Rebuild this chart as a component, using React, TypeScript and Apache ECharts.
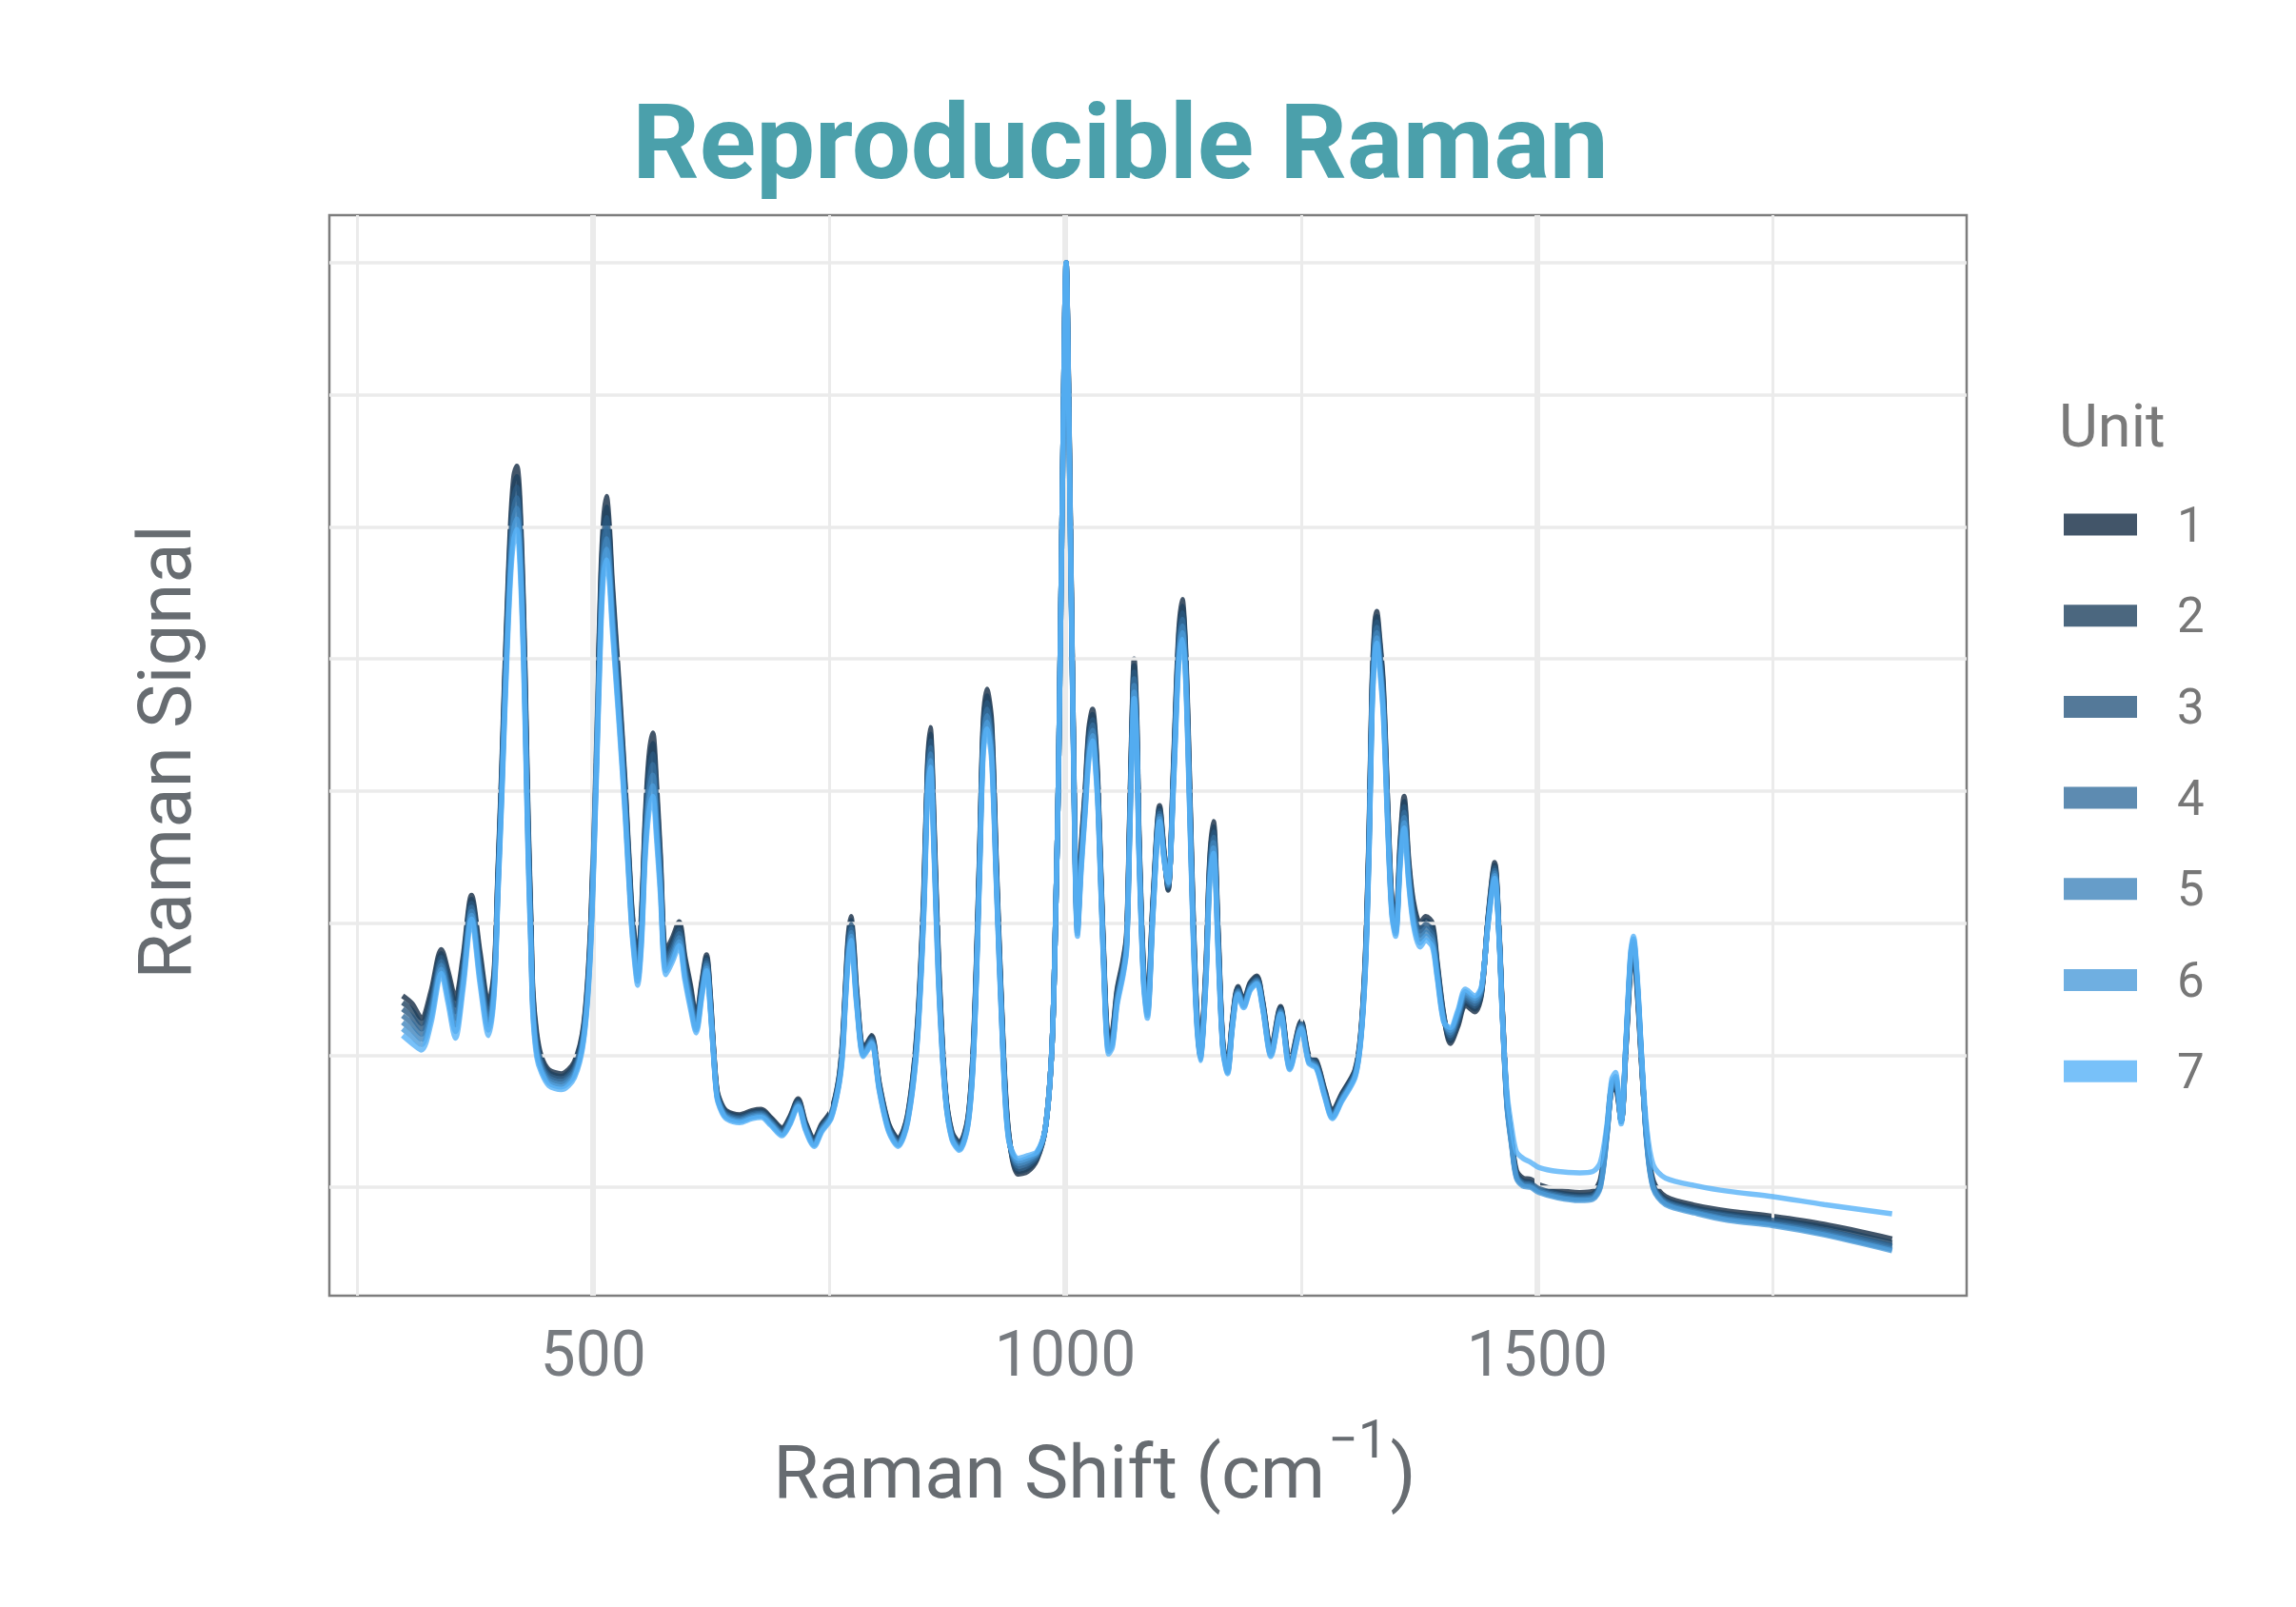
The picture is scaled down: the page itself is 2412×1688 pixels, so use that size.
import React, { useEffect, useRef } from "react";
import * as echarts from "echarts";

// ---------- data ----------
const chartTitle = "Reproducible Raman";
const xTitleMain = "Raman Shift (cm";
const xTitleSup = "\u22121";
const xTitleEnd = ")";
const yTitle = "Raman Signal";
const legendTitle = "Unit";

const units = ["1", "2", "3", "4", "5", "6", "7"];

const xMajorBreaks = [500, 1000, 1500];
const xMinorBreaks = [250, 750, 1250, 1750];
const yBreaks = [0, 1, 2, 3, 4, 5, 6, 7];

const wavenumber = [
  298, 308, 318, 328, 339, 346, 354, 362, 371, 380,
  389, 395, 399, 403, 406, 410, 413, 416, 419, 422,
  426, 429, 431, 434, 436, 440, 445, 453, 466, 480,
  490, 497, 503, 508, 511, 514, 517, 520, 527, 534,
  540, 544, 547, 551, 555, 559, 563, 567, 571, 577,
  584, 591, 597, 603, 609, 615, 620, 624, 627, 631,
  636, 641, 655, 668, 678, 688, 700, 708, 717, 725,
  734, 742, 752, 760, 764, 767, 770, 773, 776, 779,
  786, 790, 795, 803, 813, 823, 833, 843, 850, 854,
  857, 861, 866, 873, 880, 888, 897, 903, 909, 913,
  917, 922, 927, 934, 940, 950, 960, 970, 979, 986,
  990, 993, 997, 1001, 1004, 1008, 1013, 1017, 1021, 1025,
  1029, 1032, 1035, 1040, 1046, 1050, 1055, 1061, 1065, 1068,
  1071, 1073, 1076, 1078, 1083, 1087, 1093, 1100, 1105, 1109,
  1115, 1120, 1124, 1127, 1130, 1135, 1139, 1143, 1149, 1153,
  1157, 1162, 1167, 1172, 1177, 1183, 1189, 1196, 1203, 1209,
  1218, 1228, 1238, 1250, 1258, 1266, 1275, 1283, 1293, 1307,
  1313, 1318, 1322, 1325, 1328, 1330, 1333, 1337, 1342, 1346,
  1350, 1355, 1359, 1364, 1369, 1376, 1382, 1389, 1394, 1401,
  1408, 1416, 1424, 1434, 1441, 1448, 1455, 1460, 1463, 1468,
  1473, 1478, 1485, 1493, 1502, 1522, 1545, 1559, 1567, 1574,
  1579, 1583, 1589, 1594, 1599, 1602, 1606, 1611, 1616, 1623,
  1636, 1670, 1703, 1750, 1804, 1876,
];

const unit1 = [
  1.45, 1.39, 1.28, 1.48, 1.80, 1.64, 1.43, 1.74, 2.21, 1.78,
  1.39, 1.64, 2.39, 3.17, 3.84, 4.63, 5.11, 5.39, 5.46, 5.24,
  4.42, 3.48, 2.79, 2.02, 1.49, 1.17, 0.99, 0.89, 0.86, 0.95,
  1.24, 1.95, 3.32, 4.63, 5.06, 5.23, 5.01, 4.60, 3.84, 3.03,
  2.21, 1.87, 1.71, 2.07, 2.79, 3.26, 3.44, 3.06, 2.53, 1.79,
  1.89, 2.01, 1.75, 1.53, 1.29, 1.56, 1.76, 1.46, 1.10, 0.74,
  0.63, 0.58, 0.55, 0.58, 0.59, 0.53, 0.45, 0.53, 0.67, 0.49,
  0.37, 0.48, 0.58, 0.82, 1.11, 1.50, 1.89, 2.05, 1.84, 1.50,
  1.05, 1.09, 1.15, 0.79, 0.48, 0.37, 0.55, 1.19, 2.21, 3.18,
  3.48, 2.76, 1.69, 0.74, 0.42, 0.34, 0.53, 1.13, 2.47, 3.50,
  3.77, 3.53, 2.47, 1.13, 0.42, 0.10, 0.12, 0.21, 0.45, 1.07,
  2.10, 3.17, 5.26, 7.00, 5.85, 3.75, 2.02, 2.59, 3.00, 3.47,
  3.62, 3.42, 3.00, 1.92, 1.13, 1.18, 1.50, 1.71, 1.91, 2.73,
  3.62, 4.00, 3.52, 2.73, 1.66, 1.40, 2.18, 2.89, 2.52, 2.25,
  3.26, 4.17, 4.45, 4.17, 3.55, 2.21, 1.40, 1.02, 1.66, 2.47,
  2.77, 1.95, 1.10, 0.92, 1.26, 1.52, 1.42, 1.55, 1.60, 1.42,
  1.05, 1.37, 0.95, 1.26, 1.00, 0.96, 0.74, 0.58, 0.71, 0.89,
  1.16, 1.76, 2.73, 3.81, 4.27, 4.36, 4.17, 3.81, 2.84, 2.18,
  2.02, 2.63, 2.96, 2.47, 2.16, 2.00, 2.05, 2.00, 1.71, 1.31,
  1.09, 1.22, 1.38, 1.33, 1.46, 2.05, 2.46, 1.89, 1.37, 0.66,
  0.36, 0.13, 0.07, 0.06, 0.02, -0.02, -0.04, -0.03, 0.06, 0.44,
  0.74, 0.74, 0.50, 1.04, 1.66, 1.75, 1.48, 0.89, 0.39, 0.05,
  -0.07, -0.14, -0.18, -0.22, -0.28, -0.39,
];

const unit2 = [
  1.40, 1.34, 1.24, 1.44, 1.77, 1.60, 1.38, 1.70, 2.18, 1.74,
  1.35, 1.61, 2.36, 3.13, 3.79, 4.57, 5.04, 5.31, 5.38, 5.16,
  4.35, 3.42, 2.74, 1.98, 1.46, 1.14, 0.97, 0.87, 0.84, 0.93,
  1.22, 1.92, 3.27, 4.56, 4.99, 5.15, 4.94, 4.54, 3.79, 2.99,
  2.18, 1.84, 1.68, 2.03, 2.74, 3.19, 3.36, 2.99, 2.48, 1.76,
  1.86, 1.98, 1.72, 1.50, 1.27, 1.54, 1.74, 1.44, 1.09, 0.73,
  0.62, 0.57, 0.54, 0.57, 0.58, 0.52, 0.44, 0.52, 0.66, 0.48,
  0.36, 0.47, 0.57, 0.81, 1.09, 1.48, 1.86, 2.02, 1.81, 1.48,
  1.04, 1.08, 1.14, 0.78, 0.47, 0.36, 0.54, 1.17, 2.18, 3.14,
  3.43, 2.72, 1.66, 0.73, 0.41, 0.33, 0.52, 1.11, 2.44, 3.46,
  3.72, 3.48, 2.44, 1.11, 0.41, 0.12, 0.14, 0.22, 0.45, 1.07,
  2.10, 3.17, 5.26, 7.00, 5.83, 3.73, 2.00, 2.56, 2.97, 3.43,
  3.58, 3.38, 2.97, 1.90, 1.11, 1.16, 1.48, 1.69, 1.89, 2.70,
  3.58, 3.95, 3.48, 2.70, 1.64, 1.38, 2.16, 2.87, 2.51, 2.26,
  3.23, 4.13, 4.40, 4.13, 3.51, 2.18, 1.38, 1.01, 1.64, 2.44,
  2.73, 1.92, 1.09, 0.91, 1.25, 1.51, 1.41, 1.54, 1.59, 1.41,
  1.04, 1.36, 0.94, 1.25, 0.99, 0.95, 0.73, 0.57, 0.70, 0.88,
  1.15, 1.74, 2.70, 3.77, 4.23, 4.32, 4.13, 3.77, 2.81, 2.16,
  2.00, 2.60, 2.92, 2.44, 2.13, 1.97, 2.02, 1.97, 1.69, 1.30,
  1.11, 1.24, 1.40, 1.35, 1.47, 2.04, 2.44, 1.88, 1.36, 0.65,
  0.35, 0.11, 0.05, 0.04, 0.00, -0.04, -0.06, -0.05, 0.04, 0.43,
  0.75, 0.76, 0.50, 1.05, 1.68, 1.78, 1.50, 0.90, 0.38, 0.03,
  -0.09, -0.16, -0.20, -0.24, -0.30, -0.42,
];

const unit3 = [
  1.35, 1.29, 1.20, 1.40, 1.74, 1.56, 1.33, 1.66, 2.15, 1.70,
  1.31, 1.58, 2.33, 3.09, 3.74, 4.51, 4.97, 5.23, 5.30, 5.08,
  4.28, 3.36, 2.69, 1.94, 1.43, 1.11, 0.95, 0.85, 0.82, 0.91,
  1.20, 1.89, 3.22, 4.49, 4.92, 5.07, 4.87, 4.48, 3.74, 2.95,
  2.15, 1.81, 1.65, 1.99, 2.69, 3.12, 3.28, 2.92, 2.43, 1.73,
  1.83, 1.95, 1.69, 1.47, 1.25, 1.52, 1.72, 1.42, 1.08, 0.72,
  0.61, 0.56, 0.53, 0.56, 0.57, 0.51, 0.43, 0.51, 0.65, 0.47,
  0.35, 0.46, 0.56, 0.80, 1.07, 1.46, 1.83, 1.99, 1.78, 1.46,
  1.03, 1.07, 1.13, 0.77, 0.46, 0.35, 0.53, 1.15, 2.15, 3.10,
  3.38, 2.68, 1.63, 0.72, 0.40, 0.32, 0.51, 1.09, 2.41, 3.42,
  3.67, 3.43, 2.41, 1.09, 0.40, 0.14, 0.16, 0.23, 0.45, 1.07,
  2.10, 3.17, 5.26, 7.00, 5.81, 3.71, 1.98, 2.53, 2.94, 3.39,
  3.54, 3.34, 2.94, 1.88, 1.09, 1.14, 1.46, 1.67, 1.87, 2.67,
  3.54, 3.90, 3.44, 2.67, 1.62, 1.36, 2.14, 2.85, 2.50, 2.27,
  3.20, 4.09, 4.35, 4.09, 3.47, 2.15, 1.36, 1.00, 1.62, 2.41,
  2.69, 1.89, 1.08, 0.90, 1.24, 1.50, 1.40, 1.53, 1.58, 1.40,
  1.03, 1.35, 0.93, 1.24, 0.98, 0.94, 0.72, 0.56, 0.69, 0.87,
  1.14, 1.72, 2.67, 3.73, 4.19, 4.28, 4.09, 3.73, 2.78, 2.14,
  1.98, 2.57, 2.88, 2.41, 2.10, 1.94, 1.99, 1.94, 1.67, 1.29,
  1.13, 1.26, 1.42, 1.37, 1.48, 2.03, 2.42, 1.87, 1.35, 0.64,
  0.34, 0.10, 0.04, 0.03, -0.01, -0.05, -0.07, -0.06, 0.03, 0.42,
  0.76, 0.78, 0.50, 1.06, 1.70, 1.81, 1.52, 0.91, 0.37, 0.02,
  -0.10, -0.17, -0.21, -0.25, -0.32, -0.44,
];

const unit4 = [
  1.30, 1.24, 1.16, 1.36, 1.71, 1.52, 1.28, 1.62, 2.12, 1.66,
  1.27, 1.55, 2.30, 3.05, 3.69, 4.45, 4.90, 5.15, 5.22, 5.00,
  4.21, 3.30, 2.64, 1.90, 1.40, 1.08, 0.93, 0.83, 0.80, 0.89,
  1.18, 1.86, 3.17, 4.42, 4.85, 4.99, 4.80, 4.42, 3.69, 2.91,
  2.12, 1.78, 1.62, 1.95, 2.64, 3.05, 3.20, 2.85, 2.38, 1.70,
  1.80, 1.92, 1.66, 1.44, 1.23, 1.50, 1.70, 1.40, 1.07, 0.71,
  0.60, 0.55, 0.52, 0.55, 0.56, 0.50, 0.42, 0.50, 0.64, 0.46,
  0.34, 0.45, 0.55, 0.79, 1.05, 1.44, 1.80, 1.96, 1.75, 1.44,
  1.02, 1.06, 1.12, 0.76, 0.45, 0.34, 0.52, 1.13, 2.12, 3.06,
  3.33, 2.64, 1.60, 0.71, 0.39, 0.31, 0.50, 1.07, 2.38, 3.38,
  3.62, 3.38, 2.38, 1.07, 0.39, 0.16, 0.18, 0.24, 0.45, 1.07,
  2.10, 3.17, 5.26, 7.00, 5.79, 3.69, 1.96, 2.50, 2.91, 3.35,
  3.50, 3.30, 2.91, 1.86, 1.07, 1.12, 1.44, 1.65, 1.85, 2.64,
  3.50, 3.85, 3.40, 2.64, 1.60, 1.34, 2.12, 2.83, 2.49, 2.28,
  3.17, 4.05, 4.30, 4.05, 3.43, 2.12, 1.34, 0.99, 1.60, 2.38,
  2.65, 1.86, 1.07, 0.89, 1.23, 1.49, 1.39, 1.52, 1.57, 1.39,
  1.02, 1.34, 0.92, 1.23, 0.97, 0.93, 0.71, 0.55, 0.68, 0.86,
  1.13, 1.70, 2.64, 3.69, 4.15, 4.24, 4.05, 3.69, 2.75, 2.12,
  1.96, 2.54, 2.84, 2.38, 2.07, 1.91, 1.96, 1.91, 1.65, 1.28,
  1.15, 1.28, 1.44, 1.39, 1.49, 2.02, 2.40, 1.86, 1.34, 0.63,
  0.33, 0.09, 0.03, 0.02, -0.02, -0.06, -0.08, -0.07, 0.02, 0.41,
  0.77, 0.80, 0.50, 1.07, 1.72, 1.84, 1.54, 0.92, 0.36, 0.01,
  -0.11, -0.18, -0.22, -0.27, -0.33, -0.45,
];

const unit5 = [
  1.25, 1.19, 1.12, 1.32, 1.68, 1.48, 1.23, 1.58, 2.09, 1.62,
  1.23, 1.52, 2.27, 3.01, 3.64, 4.39, 4.83, 5.07, 5.14, 4.92,
  4.14, 3.24, 2.59, 1.86, 1.37, 1.05, 0.91, 0.81, 0.78, 0.87,
  1.16, 1.83, 3.12, 4.35, 4.78, 4.91, 4.73, 4.36, 3.64, 2.87,
  2.09, 1.75, 1.59, 1.91, 2.59, 2.98, 3.12, 2.78, 2.33, 1.67,
  1.77, 1.89, 1.63, 1.41, 1.21, 1.48, 1.68, 1.38, 1.06, 0.70,
  0.59, 0.54, 0.51, 0.54, 0.55, 0.49, 0.41, 0.49, 0.63, 0.45,
  0.33, 0.44, 0.54, 0.78, 1.03, 1.42, 1.77, 1.93, 1.72, 1.42,
  1.01, 1.05, 1.11, 0.75, 0.44, 0.33, 0.51, 1.11, 2.09, 3.02,
  3.28, 2.60, 1.57, 0.70, 0.38, 0.30, 0.49, 1.05, 2.35, 3.34,
  3.57, 3.33, 2.35, 1.05, 0.38, 0.18, 0.20, 0.25, 0.45, 1.07,
  2.10, 3.17, 5.26, 7.00, 5.77, 3.67, 1.94, 2.47, 2.88, 3.31,
  3.46, 3.26, 2.88, 1.84, 1.05, 1.10, 1.42, 1.63, 1.83, 2.61,
  3.46, 3.80, 3.36, 2.61, 1.58, 1.32, 2.10, 2.81, 2.48, 2.29,
  3.14, 4.01, 4.25, 4.01, 3.39, 2.09, 1.32, 0.98, 1.58, 2.35,
  2.61, 1.83, 1.06, 0.88, 1.22, 1.48, 1.38, 1.51, 1.56, 1.38,
  1.01, 1.33, 0.91, 1.22, 0.96, 0.92, 0.70, 0.54, 0.67, 0.85,
  1.12, 1.68, 2.61, 3.65, 4.11, 4.20, 4.01, 3.65, 2.72, 2.10,
  1.94, 2.51, 2.80, 2.35, 2.04, 1.88, 1.93, 1.88, 1.63, 1.27,
  1.17, 1.30, 1.46, 1.41, 1.50, 2.01, 2.38, 1.85, 1.33, 0.62,
  0.32, 0.08, 0.02, 0.01, -0.03, -0.07, -0.09, -0.08, 0.01, 0.40,
  0.78, 0.82, 0.50, 1.08, 1.74, 1.86, 1.56, 0.93, 0.35, 0.00,
  -0.12, -0.19, -0.24, -0.28, -0.35, -0.47,
];

const unit6 = [
  1.20, 1.14, 1.08, 1.28, 1.65, 1.44, 1.18, 1.54, 2.06, 1.58,
  1.19, 1.49, 2.24, 2.97, 3.59, 4.33, 4.76, 4.99, 5.06, 4.84,
  4.07, 3.18, 2.54, 1.82, 1.34, 1.02, 0.89, 0.79, 0.76, 0.85,
  1.14, 1.80, 3.07, 4.28, 4.71, 4.83, 4.66, 4.30, 3.59, 2.83,
  2.06, 1.72, 1.56, 1.87, 2.54, 2.91, 3.04, 2.71, 2.28, 1.64,
  1.74, 1.86, 1.60, 1.38, 1.19, 1.46, 1.66, 1.36, 1.05, 0.69,
  0.58, 0.53, 0.50, 0.53, 0.54, 0.48, 0.40, 0.48, 0.62, 0.44,
  0.32, 0.43, 0.53, 0.77, 1.01, 1.40, 1.74, 1.90, 1.69, 1.40,
  1.00, 1.04, 1.10, 0.74, 0.43, 0.32, 0.50, 1.09, 2.06, 2.98,
  3.23, 2.56, 1.54, 0.69, 0.37, 0.29, 0.48, 1.03, 2.32, 3.30,
  3.52, 3.28, 2.32, 1.03, 0.37, 0.20, 0.22, 0.26, 0.45, 1.07,
  2.10, 3.17, 5.26, 7.00, 5.75, 3.65, 1.92, 2.44, 2.85, 3.27,
  3.42, 3.22, 2.85, 1.82, 1.03, 1.08, 1.40, 1.61, 1.81, 2.58,
  3.42, 3.75, 3.32, 2.58, 1.56, 1.30, 2.08, 2.79, 2.47, 2.30,
  3.11, 3.97, 4.20, 3.97, 3.35, 2.06, 1.30, 0.97, 1.56, 2.32,
  2.57, 1.80, 1.05, 0.87, 1.21, 1.47, 1.37, 1.50, 1.55, 1.37,
  1.00, 1.32, 0.90, 1.21, 0.95, 0.91, 0.69, 0.53, 0.66, 0.84,
  1.11, 1.66, 2.58, 3.61, 4.07, 4.16, 3.97, 3.61, 2.69, 2.08,
  1.92, 2.48, 2.76, 2.32, 2.01, 1.85, 1.90, 1.85, 1.61, 1.26,
  1.19, 1.32, 1.48, 1.43, 1.51, 2.00, 2.36, 1.84, 1.32, 0.61,
  0.31, 0.07, 0.01, 0.00, -0.04, -0.08, -0.10, -0.09, 0.00, 0.39,
  0.79, 0.84, 0.50, 1.09, 1.76, 1.88, 1.58, 0.94, 0.34, -0.01,
  -0.13, -0.20, -0.25, -0.29, -0.36, -0.48,
];

const unit7 = [
  1.15, 1.09, 1.04, 1.24, 1.62, 1.40, 1.13, 1.50, 2.03, 1.54,
  1.15, 1.46, 2.21, 2.93, 3.54, 4.27, 4.69, 4.91, 4.98, 4.76,
  4.00, 3.12, 2.49, 1.78, 1.31, 0.99, 0.87, 0.77, 0.74, 0.83,
  1.12, 1.77, 3.02, 4.21, 4.64, 4.75, 4.59, 4.24, 3.54, 2.79,
  2.03, 1.69, 1.53, 1.83, 2.49, 2.84, 2.96, 2.64, 2.23, 1.61,
  1.71, 1.83, 1.57, 1.35, 1.17, 1.44, 1.64, 1.34, 1.04, 0.68,
  0.57, 0.52, 0.49, 0.52, 0.53, 0.47, 0.39, 0.47, 0.61, 0.43,
  0.31, 0.42, 0.52, 0.76, 0.99, 1.38, 1.71, 1.87, 1.66, 1.38,
  0.99, 1.03, 1.09, 0.73, 0.42, 0.31, 0.49, 1.07, 2.03, 2.94,
  3.18, 2.52, 1.51, 0.68, 0.36, 0.28, 0.47, 1.01, 2.29, 3.26,
  3.47, 3.23, 2.29, 1.01, 0.36, 0.22, 0.24, 0.27, 0.45, 1.07,
  2.10, 3.17, 5.26, 7.00, 5.73, 3.63, 1.90, 2.41, 2.82, 3.23,
  3.38, 3.18, 2.82, 1.80, 1.01, 1.06, 1.38, 1.59, 1.79, 2.55,
  3.38, 3.70, 3.28, 2.55, 1.54, 1.28, 2.06, 2.77, 2.46, 2.31,
  3.08, 3.93, 4.15, 3.93, 3.31, 2.03, 1.28, 0.96, 1.54, 2.29,
  2.53, 1.77, 1.04, 0.86, 1.20, 1.46, 1.36, 1.49, 1.54, 1.36,
  0.99, 1.31, 0.89, 1.20, 0.94, 0.90, 0.68, 0.52, 0.65, 0.83,
  1.10, 1.64, 2.55, 3.57, 4.03, 4.12, 3.93, 3.57, 2.66, 2.06,
  1.90, 2.45, 2.72, 2.29, 1.98, 1.82, 1.87, 1.82, 1.59, 1.25,
  1.21, 1.34, 1.50, 1.45, 1.52, 1.99, 2.34, 1.83, 1.31, 0.72,
  0.45, 0.27, 0.22, 0.19, 0.15, 0.12, 0.11, 0.12, 0.19, 0.48,
  0.82, 0.87, 0.48, 1.10, 1.78, 1.90, 1.60, 0.96, 0.46, 0.17,
  0.07, 0.01, -0.03, -0.07, -0.13, -0.20,
];

const unitValues = [unit1, unit2, unit3, unit4, unit5, unit6, unit7];

// ---------- styles ----------
const unitColors = [
  "rgba(19,43,67,0.8)",
  "rgba(30,65,95,0.8)",
  "rgba(41,88,127,0.8)",
  "rgba(52,110,157,0.8)",
  "rgba(64,132,187,0.8)",
  "rgba(75,155,217,0.8)",
  "rgba(86,177,247,0.8)",
];

const FONT = "Roboto";
const TITLE_COLOR = "#4BA0AB";
const AXIS_TITLE_COLOR = "#676C71";
const TICK_COLOR = "#777B80";
const LEGEND_TEXT_COLOR = "#777777";
const GRIDLINE_COLOR = "#EBEBEB";

function measure(text: string, font: string): number {
  const c = document.createElement("canvas").getContext("2d");
  if (!c) return text.length * 30;
  c.font = font;
  return c.measureText(text).width;
}

export default function App() {
  const ref = useRef<HTMLDivElement>(null);

  useEffect(() => {
    if (!ref.current) return;
    const chart = echarts.init(ref.current, null, {
      renderer: "svg",
      width: 2412,
      height: 1688,
    });

    const mainFont = `78px ${FONT}`;
    const supFont = `55px ${FONT}`;
    const wMain = measure(xTitleMain, mainFont);
    const wSup = measure(xTitleSup, supFont);
    const wEnd = measure(xTitleEnd, mainFont);
    const gap = 3;
    const total = wMain + gap + wSup + gap + wEnd;
    const xCenter = 1150;
    const x0 = xCenter - total / 2;

    const gridLineData: any[] = [
      ...yBreaks.map((v) => ({ yAxis: v, lineStyle: { width: 3.5 } })),
      ...xMinorBreaks.map((v) => ({ xAxis: v, lineStyle: { width: 3 } })),
      ...xMajorBreaks.map((v) => ({ xAxis: v, lineStyle: { width: 6 } })),
    ];

    const option: any = {
      animation: false,
      backgroundColor: "#ffffff",
      textStyle: { fontFamily: FONT },
      grid: {
        left: 346,
        top: 226,
        width: 1720,
        height: 1135,
        show: true,
        borderColor: "#7D7D7D",
        borderWidth: 2.5,
        backgroundColor: "transparent",
        containLabel: false,
      },
      xAxis: {
        type: "value",
        min: 220.4,
        max: 1955,
        splitNumber: 3,
        axisLine: { show: false },
        axisTick: { show: false },
        splitLine: { show: false },
        axisLabel: {
          show: true,
          showMinLabel: false,
          showMaxLabel: false,
          fontSize: 66,
          lineHeight: 66,
          fontFamily: FONT,
          color: TICK_COLOR,
          margin: 28,
          formatter: (v: number) => String(v),
        },
      },
      yAxis: {
        type: "value",
        min: -0.82,
        max: 7.36,
        axisLine: { show: false },
        axisTick: { show: false },
        splitLine: { show: false },
        axisLabel: { show: false },
      },
      legend: {
        data: units,
        orient: "vertical",
        left: 2168,
        top: 525.5,
        padding: 0,
        itemWidth: 77,
        itemHeight: 23,
        itemGap: 44.7,
        icon: "rect",
        selectedMode: false,
        formatter: "{p|{name}}",
        textStyle: {
          rich: {
            p: {
              fontSize: 51,
              lineHeight: 51,
              fontFamily: FONT,
              color: LEGEND_TEXT_COLOR,
              padding: [0, 0, 0, 37],
            },
          },
        },
      },
      graphic: [
        {
          type: "text",
          x: 1177,
          y: 149,
          silent: true,
          style: {
            text: chartTitle,
            font: `bold 110px ${FONT}`,
            fill: TITLE_COLOR,
            align: "center",
            verticalAlign: "middle",
          },
        },
        {
          type: "text",
          x: 173,
          y: 790,
          rotation: Math.PI / 2,
          silent: true,
          style: {
            text: yTitle,
            font: mainFont,
            fill: AXIS_TITLE_COLOR,
            align: "center",
            verticalAlign: "middle",
          },
        },
        {
          type: "text",
          x: x0,
          y: 1546,
          silent: true,
          style: {
            text: xTitleMain,
            font: mainFont,
            fill: AXIS_TITLE_COLOR,
            align: "left",
            verticalAlign: "middle",
          },
        },
        {
          type: "text",
          x: x0 + wMain + gap,
          y: 1512,
          silent: true,
          style: {
            text: xTitleSup,
            font: supFont,
            fill: AXIS_TITLE_COLOR,
            align: "left",
            verticalAlign: "middle",
          },
        },
        {
          type: "text",
          x: x0 + wMain + gap + wSup + gap,
          y: 1546,
          silent: true,
          style: {
            text: xTitleEnd,
            font: mainFont,
            fill: AXIS_TITLE_COLOR,
            align: "left",
            verticalAlign: "middle",
          },
        },
        {
          type: "text",
          x: 2163,
          y: 447,
          silent: true,
          style: {
            text: legendTitle,
            font: `63px ${FONT}`,
            fill: "#7A7A7A",
            align: "left",
            verticalAlign: "middle",
          },
        },
      ],
      series: [
        {
          name: "gridlines",
          type: "line",
          data: [],
          silent: true,
          z: 1,
          markLine: {
            silent: true,
            symbol: ["none", "none"],
            label: { show: false },
            emphasis: { disabled: true },
            lineStyle: { color: GRIDLINE_COLOR, type: "solid", width: 3.5 },
            data: gridLineData,
          },
        },
        ...units.map((u, i) => ({
          name: u,
          type: "line",
          data: wavenumber.map((x, j) => [x, unitValues[i][j]]),
          showSymbol: false,
          symbol: "none",
          smooth: 0.3,
          silent: true,
          z: 3 + i,
          emphasis: { disabled: true },
          lineStyle: { width: 5.5, color: unitColors[i] },
          itemStyle: { color: unitColors[i] },
        })),
      ],
    };

    chart.setOption(option);
    return () => {
      chart.dispose();
    };
  }, []);

  return (
    <div
      ref={ref}
      style={{ position: "absolute", left: 0, top: 0, width: 2412, height: 1688 }}
    />
  );
}
